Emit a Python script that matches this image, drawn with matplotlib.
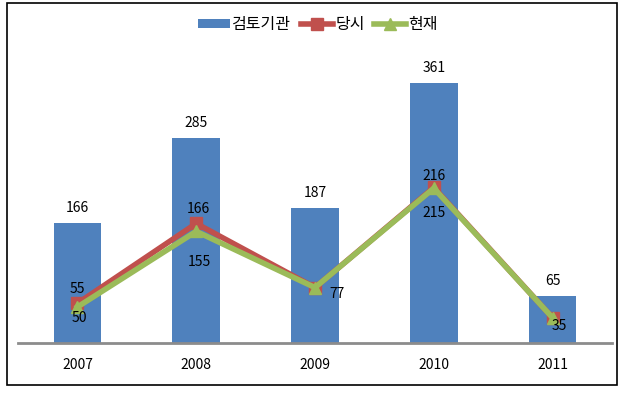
import matplotlib
matplotlib.use("Agg")
import matplotlib.pyplot as plt
from matplotlib.patches import Rectangle

plt.rcParams['font.family'] = ['Noto Sans CJK KR', 'DejaVu Sans']

years = ['2007', '2008', '2009', '2010', '2011']
reviewed = [166, 285, 187, 361, 65]      # 검토기관
then_vals = [55, 166, 77, 216, 35]       # 당시
now_vals = [50, 155, 77, 215, 35]        # 현재

series_names = ['검토기관', '당시', '현재']

# label offsets (pixels) for line labels; None = no label
then_off = [(0, 14), (2, 14), None, (0, 11), None]
now_off = [(2, -11), (3, -31), (22, -6), (0, -25), (7, -8)]

fig = plt.figure(figsize=(6.21, 4.0), dpi=100)
fig.patch.set_facecolor('white')
fig.add_artist(Rectangle((0.0113, 0.0375), 0.9823, 0.955, transform=fig.transFigure,
                         fill=False, edgecolor='black', linewidth=1.2))

ax = fig.add_axes([0.029, 0.1425, 0.9565, 0.72])
x = list(range(len(years)))
bars = ax.bar(x, reviewed, width=0.4, color='#4F81BD', label=series_names[0], zorder=2)
l1, = ax.plot(x, then_vals, color='#C0504D', linewidth=4, marker='s', markersize=8,
              label=series_names[1], zorder=3)
l2, = ax.plot(x, now_vals, color='#9BBB59', linewidth=4, marker='^', markersize=9,
              label=series_names[2], zorder=4)

fs = 10
for xi, v in zip(x, reviewed):
    ax.annotate(str(v), (xi, v), xytext=(0, 15), textcoords='offset pixels',
                ha='center', va='center', fontsize=fs, color='black', zorder=5)
for xi, v, off in zip(x, then_vals, then_off):
    if off is not None:
        ax.annotate(str(v), (xi, v), xytext=off, textcoords='offset pixels',
                    ha='center', va='center', fontsize=fs, color='black', zorder=5)
for xi, v, off in zip(x, now_vals, now_off):
    if off is not None:
        ax.annotate(str(v), (xi, v), xytext=off, textcoords='offset pixels',
                    ha='center', va='center', fontsize=fs, color='black', zorder=5)

ax.set_xlim(-0.5, 4.5)
ax.set_ylim(0, 400)
ax.set_xticks(x)
ax.set_xticklabels(years, fontsize=fs)
ax.tick_params(axis='x', length=0, pad=11)
ax.set_yticks([])
for s in ['top', 'right', 'left']:
    ax.spines[s].set_visible(False)
ax.spines['bottom'].set_color('#8c8c8c')
ax.spines['bottom'].set_linewidth(2)
ax.patch.set_alpha(0)

fig.legend(handles=[bars, l1, l2], labels=series_names, loc='center',
           bbox_to_anchor=(0.512, 0.9375), ncol=3, frameon=False, fontsize=11.5,
           handlelength=2.0, handleheight=0.5, handletextpad=0.15, columnspacing=0.6)

fig.savefig('out.png', dpi=100)
